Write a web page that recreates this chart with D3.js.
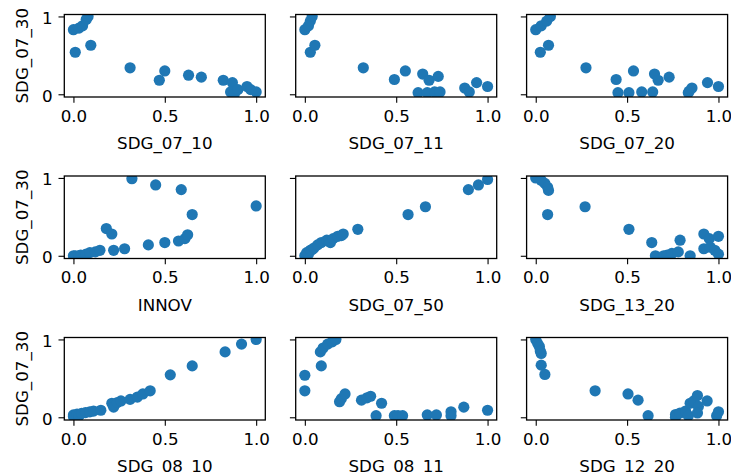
<!DOCTYPE html>
<html>
<head>
<meta charset="utf-8">
<script src="https://cdn.jsdelivr.net/npm/d3@7"></script>
<style>
  body { margin: 0; background: #fff; }
  text { font-family: "DejaVu Sans", sans-serif; fill: #000; }
</style>
</head>
<body>
<script>
// y variable shared by every panel
var yName = "SDG_07_30";

// x variable of each panel, row by row
var xNames = ["SDG_07_10", "SDG_07_11", "SDG_07_20",
              "INNOV", "SDG_07_50", "SDG_13_20",
              "SDG_08_10", "SDG_08_11", "SDG_12_20"];

var xTicks = [0, 0.5, 1];
var yTicks = [0, 1];

// [x, y] points
var sdg_07_10 = [[0.0,0.83],[0.03,0.85],[0.05,0.88],[0.07,0.96],[0.08,1.0],[0.01,0.54],[0.095,0.63],
  [0.31,0.34],[0.47,0.18],[0.50,0.30],[0.63,0.245],[0.70,0.22],[0.82,0.18],[0.87,0.15],
  [0.86,0.03],[0.88,0.0],[0.9,0.06],[0.95,0.1],[0.97,0.06],[1.0,0.03]];
var sdg_07_11 = [[0.0,0.83],[0.02,0.88],[0.03,0.94],[0.04,1.0],[0.03,0.54],[0.055,0.63],
  [0.32,0.34],[0.49,0.19],[0.55,0.30],[0.645,0.26],[0.68,0.18],[0.73,0.23],[0.62,0.02],
  [0.67,0.02],[0.71,0.03],[0.74,0.03],[0.875,0.08],[0.9,0.03],[0.94,0.15],[1.0,0.10]];
var sdg_07_20 = [[0.0,0.83],[0.03,0.88],[0.06,0.94],[0.08,1.0],[0.025,0.54],[0.07,0.63],
  [0.275,0.34],[0.44,0.19],[0.535,0.30],[0.65,0.26],[0.67,0.18],[0.73,0.22],[0.45,0.02],
  [0.51,0.02],[0.58,0.03],[0.64,0.03],[0.835,0.02],[0.84,0.04],[0.855,0.08],[0.94,0.15],[1.0,0.10]];
var innov = [[0.32,0.99],[0.45,0.91],[0.59,0.85],[0.65,0.53],[1.0,0.64],[0.18,0.35],[0.21,0.28],
  [0.22,0.07],[0.28,0.09],[0.41,0.14],[0.50,0.17],[0.575,0.19],[0.61,0.22],[0.625,0.27],
  [0.0,0.0],[0.01,0.0],[0.03,0.0],[0.04,0.01],[0.06,0.01],[0.07,0.02],[0.09,0.04],[0.12,0.05],[0.145,0.07]];
var sdg_07_50 = [[0.0,0.0],[0.01,0.04],[0.02,0.02],[0.03,0.07],[0.04,0.08],[0.05,0.10],[0.07,0.14],
  [0.09,0.17],[0.12,0.20],[0.13,0.19],[0.14,0.17],[0.155,0.22],[0.18,0.25],[0.2,0.26],[0.21,0.28],
  [0.29,0.34],[0.565,0.53],[0.66,0.63],[0.895,0.85],[0.95,0.91],[1.0,0.98]];
var sdg_13_20 = [[0.0,1.0],[0.03,0.97],[0.05,0.93],[0.065,0.88],[0.07,0.84],[0.065,0.53],[0.27,0.63],
  [0.51,0.34],[0.635,0.17],[0.655,0.0],[0.7,0.0],[0.72,0.01],[0.745,0.03],[0.78,0.05],[0.79,0.2],
  [0.845,0.0],[0.92,0.28],[0.95,0.22],[0.92,0.09],[0.955,0.11],[0.98,0.07],[1.0,0.02],[1.0,0.25]];
var sdg_08_10 = [[0.0,0.01],[0.0,0.03],[0.02,0.04],[0.03,0.02],[0.045,0.05],[0.066,0.06],[0.09,0.07],
  [0.11,0.08],[0.15,0.09],[0.21,0.18],[0.22,0.13],[0.24,0.19],[0.26,0.21],[0.31,0.23],[0.35,0.26],
  [0.38,0.30],[0.42,0.34],[0.53,0.545],[0.65,0.66],[0.83,0.84],[0.92,0.94],[1.0,1.0]];
var sdg_08_11 = [[0.0,0.54],[0.0,0.34],[0.085,0.84],[0.10,0.89],[0.125,0.94],[0.15,0.97],[0.17,1.0],
  [0.09,0.66],[0.19,0.2],[0.2,0.24],[0.22,0.3],[0.31,0.22],[0.34,0.25],[0.36,0.27],[0.39,0.02],
  [0.42,0.18],[0.49,0.02],[0.51,0.02],[0.535,0.02],[0.67,0.03],[0.72,0.03],[0.80,0.07],[0.80,0.02],
  [0.87,0.13],[1.0,0.09]];
var sdg_12_20 = [[0.0,1.0],[0.01,0.95],[0.02,0.91],[0.025,0.85],[0.03,0.82],[0.03,0.67],[0.05,0.55],
  [0.325,0.34],[0.505,0.30],[0.56,0.22],[0.615,0.02],[0.765,0.035],[0.765,0.0],[0.79,0.055],
  [0.82,0.08],[0.835,0.02],[0.845,0.18],[0.865,0.21],[0.885,0.28],[0.89,0.14],[0.885,0.055],
  [0.938,0.21],[0.99,0.02],[1.0,0.07]];

var panels = [sdg_07_10, sdg_07_11, sdg_07_20, innov, sdg_07_50, sdg_13_20,
              sdg_08_10, sdg_08_11, sdg_12_20];

var svg_width = 731;
var svg_height = 475;

// axes boxes
var colLeft = [64.3, 295.7, 526.6];
var rowTop = [14.5, 176, 337.5];
var axW = 201;
var axH = 82.5;

var fontSize = 16.7;
var tickLen = 5.8;
var blue = "#1f77b4";

var svg = d3.select("body").append("svg")
  .attr("width", svg_width)
  .attr("height", svg_height);

svg.append("rect").attr("width", svg_width).attr("height", svg_height).attr("fill", "#fff");

var xScale = d3.scaleLinear().domain([-0.05, 1.05]).range([0, axW]);
var yScale = d3.scaleLinear().domain([-0.035, 1.025]).range([axH, 0]);

panels.forEach(function(pts, i) {
  var row = Math.floor(i / 3), col = i % 3;
  var g = svg.append("g")
    .attr("transform", "translate(" + colLeft[col] + "," + rowTop[row] + ")");

  // clip the markers to the axes box
  var clipId = "clip" + i;
  g.append("clipPath").attr("id", clipId)
    .append("rect").attr("width", axW).attr("height", axH);

  g.append("g").attr("clip-path", "url(#" + clipId + ")")
    .selectAll("circle")
    .data(pts)
    .enter()
    .append("circle")
    .attr("cx", d => xScale(d[0]))
    .attr("cy", d => yScale(d[1]))
    .attr("r", 5.6)
    .attr("fill", blue);

  // x axis
  var xg = g.append("g")
    .attr("transform", "translate(0," + axH + ")")
    .call(d3.axisBottom(xScale).tickValues(xTicks).tickFormat(d3.format(".1f"))
      .tickSizeInner(tickLen).tickSizeOuter(0).tickPadding(7.3));
  xg.select(".domain").remove();
  xg.selectAll("line").attr("stroke", "#000").attr("stroke-width", 1.1);
  xg.selectAll("text").attr("font-size", fontSize).attr("fill", "#000")
    .attr("font-family", "DejaVu Sans");

  // y axis (labels only on the left column)
  var yg = g.append("g")
    .call(d3.axisLeft(yScale).tickValues(yTicks).tickFormat(d3.format("d"))
      .tickSizeInner(tickLen).tickSizeOuter(0).tickPadding(5.9));
  yg.select(".domain").remove();
  yg.selectAll("line").attr("stroke", "#000").attr("stroke-width", 1.1);
  yg.selectAll("text").attr("font-size", fontSize).attr("fill", "#000")
    .attr("font-family", "DejaVu Sans").attr("dy", "0.42em");
  if (col > 0) yg.selectAll("text").remove();

  // spines
  g.append("rect")
    .attr("width", axW).attr("height", axH)
    .attr("fill", "none").attr("stroke", "#000").attr("stroke-width", 1.3);

  // x label
  g.append("text")
    .attr("x", axW / 2)
    .attr("y", axH + 52)
    .attr("text-anchor", "middle")
    .attr("font-size", fontSize)
    .text(xNames[i]);

  // y label
  if (col == 0) {
    g.append("text")
      .attr("text-anchor", "middle")
      .attr("transform", "translate(" + (28 - colLeft[0]) + "," + (axH / 2) + ") rotate(-90)")
      .attr("font-size", fontSize)
      .text(yName);
  }
});
</script>
</body>
</html>
